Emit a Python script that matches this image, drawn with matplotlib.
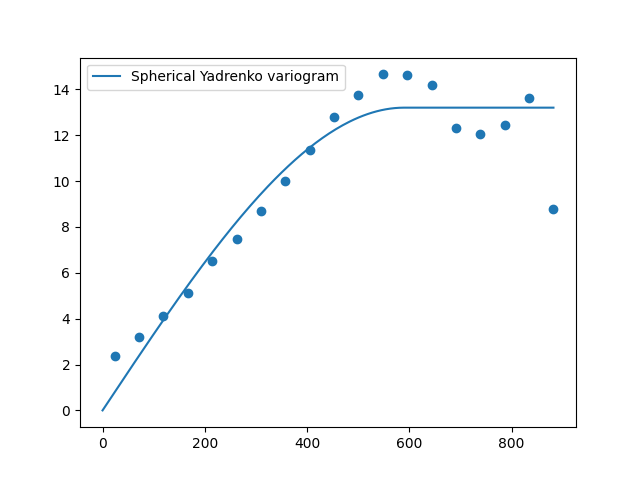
import numpy as np
import matplotlib
matplotlib.use("Agg")
import matplotlib.pyplot as plt

# empirical variogram (lag, semivariance)
lags = [23.5, 70.6, 117.6, 166.7, 213.7, 262.7, 309.8, 356.9, 405.9, 452.9,
        500.0, 549.0, 596.0, 645.0, 692.0, 739.0, 788.0, 835.0, 882.0]
gamma = [2.36, 3.18, 4.10, 5.10, 6.50, 7.46, 8.68, 9.99, 11.34, 12.78,
         13.74, 14.65, 14.61, 14.17, 12.30, 12.04, 12.43, 13.61, 8.77]

# fitted spherical model parameters
sill = 13.2
vrange = 590.0
hmax = 882.0

h = np.linspace(0, hmax, 200)
hr = np.minimum(h / vrange, 1.0)
model = sill * (1.5 * hr - 0.5 * hr**3)

fig, ax = plt.subplots(figsize=(6.4, 4.8), dpi=100)
ax.plot(h, model, label="Spherical Yadrenko variogram")
ax.scatter(lags, gamma)
ax.legend(loc="upper left")
fig.savefig("out.png")
